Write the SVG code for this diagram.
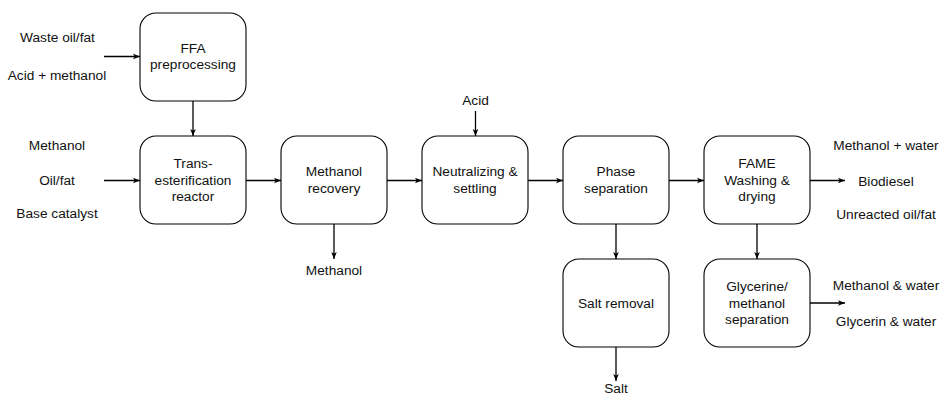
<svg xmlns="http://www.w3.org/2000/svg" width="941" height="394" viewBox="0 0 941 394">
<style>
.box{fill:#fff;stroke:#000;stroke-width:1.1}
.t{font-family:"Liberation Sans",Arial,sans-serif;font-size:13.7px;fill:#111;text-anchor:middle}
.c{fill:none;stroke:#000;stroke-width:1.3}
</style>
<defs>
<marker id="ah" viewBox="0 0 10 10" refX="10" refY="5" markerWidth="7" markerHeight="7" markerUnits="userSpaceOnUse" orient="auto">
<path d="M0,1 L10,5 L0,9 L2.5,5 Z" fill="#000"/>
</marker>
</defs>
<rect width="941" height="394" fill="#fff"/>
<g id="ffa"><rect class="box" x="140" y="13" width="106" height="88" rx="16"/><text class="t" x="193" y="52.5">FFA</text><text class="t" x="193" y="69">preprocessing</text></g>
<g id="trans"><rect class="box" x="140" y="136" width="106" height="88" rx="16"/><text class="t" x="193" y="167.5">Trans-</text><text class="t" x="193" y="184.5">esterification</text><text class="t" x="193" y="201">reactor</text></g>
<g id="mrec"><rect class="box" x="281" y="136" width="106" height="88" rx="16"/><text class="t" x="334" y="176">Methanol</text><text class="t" x="334" y="192.5">recovery</text></g>
<g id="neut"><rect class="box" x="422" y="136" width="106" height="88" rx="16"/><text class="t" x="475" y="176">Neutralizing &amp;</text><text class="t" x="475" y="192.5">settling</text></g>
<g id="phase"><rect class="box" x="563" y="136" width="106" height="88" rx="16"/><text class="t" x="616" y="176">Phase</text><text class="t" x="616" y="192.5">separation</text></g>
<g id="fame"><rect class="box" x="704" y="136" width="106" height="88" rx="16"/><text class="t" x="757" y="167.5">FAME</text><text class="t" x="757" y="184.5">Washing &amp;</text><text class="t" x="757" y="201">drying</text></g>
<g id="salt"><rect class="box" x="563" y="259" width="106" height="88" rx="16"/><text class="t" x="616" y="307.5">Salt removal</text></g>
<g id="glyc"><rect class="box" x="704" y="259" width="106" height="88" rx="16"/><text class="t" x="757" y="290.5">Glycerine/</text><text class="t" x="757" y="307.5">methanol</text><text class="t" x="757" y="324">separation</text></g>
<g id="labels">
<text class="t" x="57.5" y="41.5">Waste oil/fat</text>
<text class="t" x="57" y="80">Acid + methanol</text>
<text class="t" x="57" y="150">Methanol</text>
<text class="t" x="57" y="184.5">Oil/fat</text>
<text class="t" x="57" y="217.5">Base catalyst</text>
<text class="t" x="475.5" y="105">Acid</text>
<text class="t" x="334" y="274.5">Methanol</text>
<text class="t" x="616" y="392.5">Salt</text>
<text class="t" x="886" y="149.5">Methanol + water</text>
<text class="t" x="886" y="185.5">Biodiesel</text>
<text class="t" x="886" y="218.5">Unreacted oil/fat</text>
<text class="t" x="886" y="290">Methanol &amp; water</text>
<text class="t" x="886" y="325.5">Glycerin &amp; water</text>
</g>
<g id="connectors">
<line class="c" x1="104" y1="56.5" x2="140" y2="56.5" marker-end="url(#ah)"/>
<line class="c" x1="193" y1="101" x2="193" y2="136" marker-end="url(#ah)"/>
<line class="c" x1="104" y1="180.5" x2="140" y2="180.5" marker-end="url(#ah)"/>
<line class="c" x1="246" y1="180.5" x2="281" y2="180.5" marker-end="url(#ah)"/>
<line class="c" x1="387" y1="180.5" x2="422" y2="180.5" marker-end="url(#ah)"/>
<line class="c" x1="528" y1="180.5" x2="563" y2="180.5" marker-end="url(#ah)"/>
<line class="c" x1="669" y1="180.5" x2="704" y2="180.5" marker-end="url(#ah)"/>
<line class="c" x1="810" y1="180.5" x2="845" y2="180.5" marker-end="url(#ah)"/>
<line class="c" x1="334" y1="224" x2="334" y2="259" marker-end="url(#ah)"/>
<line class="c" x1="475.5" y1="111" x2="475.5" y2="136" marker-end="url(#ah)"/>
<line class="c" x1="616" y1="224" x2="616" y2="259" marker-end="url(#ah)"/>
<line class="c" x1="616" y1="347" x2="616" y2="381" marker-end="url(#ah)"/>
<line class="c" x1="757" y1="224" x2="757" y2="259" marker-end="url(#ah)"/>
<line class="c" x1="810" y1="303" x2="845" y2="303" marker-end="url(#ah)"/>
</g>
</svg>
